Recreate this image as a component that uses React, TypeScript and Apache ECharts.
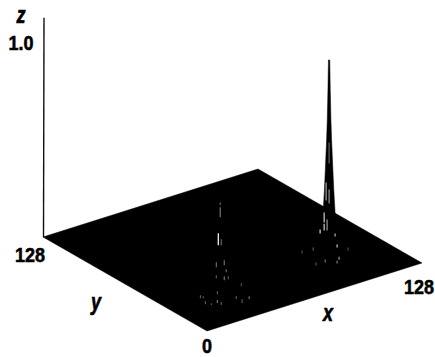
import React, { useEffect, useRef } from "react";
import * as echarts from "echarts";

const W = 435;
const H = 357;

// Domain extents
const domainMax = 128;
const zTop = 1.13;
const floorCorners = [
  [0, 0],
  [128, 0],
  [128, 128],
  [0, 128],
];

// Tick labels and axis names
const tickX = "128";
const tickY = "128";
const tickOrigin = "0";
const tickZ = "1.0";
const axisNames = ["x", "y", "z"];

// Peak centres in (x, y)
const peak1Center = [91, 24];
const peak2Center = [23, 19];

// Peak silhouettes: [z, half width in x units]
const peak1Profile = [
  [1.057, 0.25],
  [0.9, 0.45],
  [0.747, 0.7],
  [0.644, 0.96],
  [0.505, 1.4],
  [0.387, 1.8],
  [0.268, 2.3],
  [0.129, 4],
  [0, 8],
];
const peak2Profile = [
  [0.526, 0.2],
  [0.4, 0.7],
  [0.25, 1.5],
  [0.1, 3.5],
  [0, 8],
];

// Gaps in the mesh: [sideways offset, z low, z high, brightness]
const peak1Gaps = [
  [0, 0.526, 0.629, 0.4],
  [-1.15, 0.335, 0.423, 0.65],
  [0, 0.32, 0.387, 0.6],
  [-1.9, 0.222, 0.268, 0.8],
  [-1.9, 0.18, 0.21, 0.8],
  [-0.77, 0.18, 0.232, 0.6],
  [-3.45, 0.165, 0.18, 0.85],
  [2.3, 0.15, 0.16, 0.7],
  [3.07, 0.093, 0.103, 0.8],
  [3.84, 0.03, 0.04, 0.6],
  [-10.4, 0.062, 0.072, 0.3],
  [-6.1, 0.077, 0.088, 0.35],
  [-1.5, 0.015, 0.026, 0.45],
  [-5, 0, 0.01, 0.35],
  [3.07, 0.01, 0.02, 0.5],
  [7.3, 0.077, 0.088, 0.3],
];
const peak2Gaps = [
  [-0.4, 0.516, 0.526, 0.35],
  [-0.4, 0.454, 0.5, 0.45],
  [-1.15, 0.31, 0.366, 1],
  [0, 0.31, 0.336, 0.4],
  [-1.9, 0.196, 0.217, 0.4],
  [1.15, 0.207, 0.227, 0.4],
  [1.9, 0.171, 0.181, 0.4],
  [-1.9, 0.14, 0.15, 0.35],
  [1.15, 0.129, 0.145, 0.45],
  [2.7, 0.134, 0.145, 0.35],
  [-8, 0.037, 0.047, 0.35],
  [-6.9, 0.037, 0.042, 0.35],
  [-1.5, 0.057, 0.067, 0.35],
  [7.7, 0.098, 0.109, 0.3],
  [5.75, 0.032, 0.042, 0.35],
  [8, 0.012, 0.026, 0.35],
  [10.7, 0.032, 0.042, 0.45],
  [-6.1, 0.006, 0.016, 0.35],
  [-3.8, 0.002, 0.006, 0.35],
  [-1.5, 0.012, 0.022, 0.45],
  [0, 0.002, 0.012, 0.35],
];

// Oblique view of the box
const origin = [207, 331];
const xStep = [215 / domainMax, -68 / domainMax];
const yStep = [-164 / domainMax, -94 / domainMax];
const zStep = 194;
const sideSlope = -0.723;

function project(x: number, y: number, z: number) {
  return [
    origin[0] + x * xStep[0] + y * yStep[0],
    origin[1] + x * xStep[1] + y * yStep[1] - z * zStep,
  ];
}

function sideways(c: number[], d: number, z: number) {
  return project(c[0] + d, c[1] + d * sideSlope, z);
}

function peakOutline(center: number[], profile: number[][]) {
  const left = profile.map(([z, w]) => sideways(center, -w, z));
  const right = profile.map(([z, w]) => sideways(center, w, z)).reverse();
  return left.concat(right);
}

function staticSeries(name: string, rows: any[], draw: (row: any, api: any) => any) {
  return {
    type: "custom",
    name,
    coordinateSystem: "cartesian2d",
    clip: false,
    silent: true,
    data: rows.map((_, i) => [i, i]),
    encode: { x: 0, y: 1 },
    renderItem: (params: any, api: any) => draw(rows[params.dataIndex], api),
  };
}

const polygon = (pts: number[][], api: any, fill: string) => ({
  type: "polygon",
  shape: { points: pts.map((p) => api.coord(p)) },
  style: { fill, stroke: fill, lineWidth: 0.5 },
});

const gapSeries = (name: string, center: number[], gaps: number[][]) =>
  staticSeries(name, gaps, ([d, lo, hi, b], api) => {
    const p0 = api.coord(sideways(center, d, lo));
    const p1 = api.coord(sideways(center, d, hi));
    const v = Math.round(255 * b);
    return {
      type: "line",
      shape: { x1: p0[0], y1: p0[1] + 0.5, x2: p1[0], y2: p1[1] - 0.5 },
      style: { stroke: `rgb(${v},${v},${v})`, lineWidth: 1.2 },
    };
  });

const labelFont = (italic: boolean) =>
  `${italic ? "italic " : ""}bold 18px "Liberation Sans", Arial, sans-serif`;

const label = (text: string, x: number, y: number, italic = false) => ({
  type: "text",
  x,
  y,
  scaleY: italic ? 1.3 : 1.12,
  style: {
    text,
    font: labelFont(italic),
    fill: "#000",
    stroke: "#000",
    lineWidth: 0.5,
    textAlign: "center",
    textVerticalAlign: "middle",
  },
});

export default function App() {
  const ref = useRef<HTMLDivElement>(null);
  useEffect(() => {
    document.body.style.margin = "0";
    const chart = echarts.init(ref.current!, null, { renderer: "svg" });
    chart.setOption({
      animation: false,
      backgroundColor: "#fff",
      grid: { left: 0, right: 0, top: 0, bottom: 0 },
      xAxis: { type: "value", min: 0, max: W, show: false },
      yAxis: { type: "value", min: 0, max: H, inverse: true, show: false },
      series: [
        staticSeries("z axis", [[0, 128, 0, zTop]], ([x, y, z0, z1], api) => {
          const a = api.coord(project(x, y, z0));
          const b = api.coord(project(x, y, z1));
          return {
            type: "line",
            shape: { x1: a[0] + 0.5, y1: a[1], x2: b[0] + 1, y2: b[1] },
            style: { stroke: "#111", lineWidth: 1.4 },
          };
        }),
        staticSeries("floor", [floorCorners], (corners, api) =>
          polygon(corners.map(([x, y]: number[]) => project(x, y, 0)), api, "#000"),
        ),
        staticSeries("peak 1", [peak1Profile], (profile, api) =>
          polygon(peakOutline(peak1Center, profile), api, "#000"),
        ),
        staticSeries("peak 2", [peak2Profile], (profile, api) =>
          polygon(peakOutline(peak2Center, profile), api, "#000"),
        ),
        gapSeries("peak 1 gaps", peak1Center, peak1Gaps),
        gapSeries("peak 2 gaps", peak2Center, peak2Gaps),
      ],
      graphic: [
        label(axisNames[2], 21, 15, true),
        label(tickZ, 21, 43),
        label(tickY, 30, 255),
        label(axisNames[1], 96, 302, true),
        label(tickOrigin, 207, 346),
        label(axisNames[0], 328, 313, true),
        label(tickX, 419, 287),
      ],
    });
    return () => chart.dispose();
  }, []);
  return <div ref={ref} style={{ width: W, height: H }} />;
}
